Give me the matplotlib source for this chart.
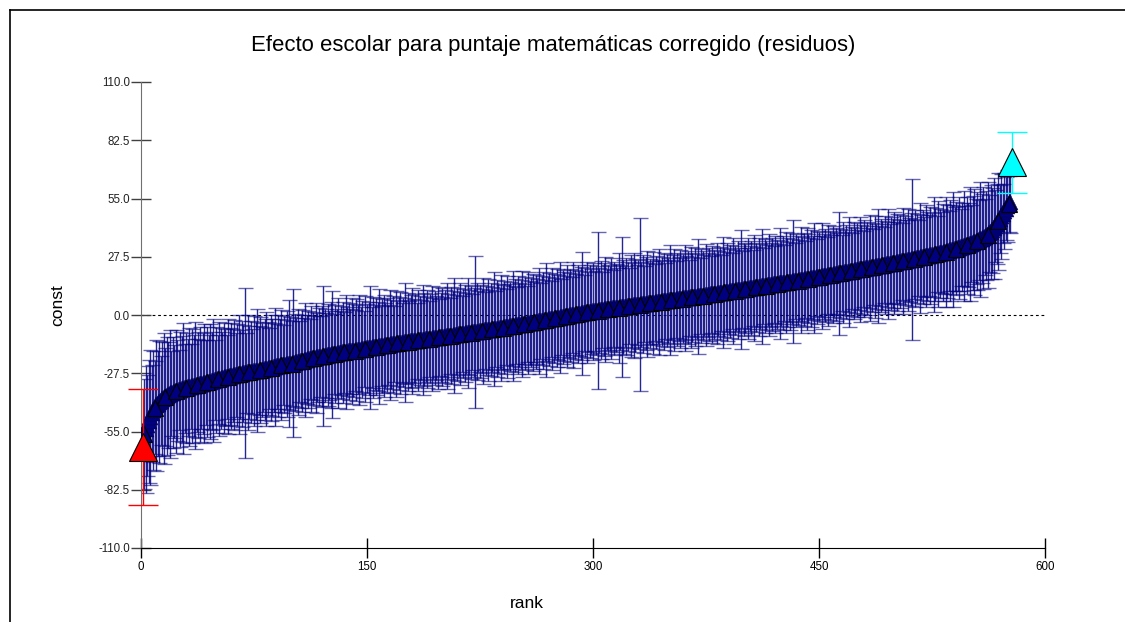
import numpy as np
import matplotlib
matplotlib.use("Agg")
import matplotlib.pyplot as plt
from matplotlib.lines import Line2D

plt.rcParams['font.family'] = ['Liberation Sans', 'DejaVu Sans']

# residuos ordenados por rango (rank 1 .. 578)
residuals = [
    -62.3, -56.0, -54.0, -52.1, -50.2, -48.3, -46.5, -45.0, -43.7, -42.6, -41.8, -41.1, -40.4, -39.8, -39.3, -38.7, -38.2, -37.7, -37.3, -36.9,
    -36.6, -36.3, -36.0, -35.7, -35.5, -35.2, -35.0, -34.8, -34.6, -34.4, -34.2, -34.0, -33.8, -33.6, -33.5, -33.3, -33.1, -32.9, -32.8, -32.6,
    -32.4, -32.2, -32.0, -31.8, -31.6, -31.4, -31.2, -31.0, -30.8, -30.6, -30.4, -30.2, -30.0, -29.8, -29.7, -29.5, -29.3, -29.1, -29.0, -28.8,
    -28.6, -28.5, -28.3, -28.2, -28.0, -27.9, -27.7, -27.6, -27.4, -27.3, -27.1, -27.0, -26.9, -26.7, -26.6, -26.5, -26.4, -26.3, -26.1, -26.0,
    -25.8, -25.7, -25.5, -25.3, -25.2, -25.0, -24.8, -24.7, -24.5, -24.3, -24.2, -24.0, -23.8, -23.7, -23.5, -23.4, -23.3, -23.1, -23.0, -22.9,
    -22.7, -22.5, -22.3, -22.2, -22.0, -21.8, -21.6, -21.5, -21.3, -21.1, -21.0, -20.8, -20.7, -20.5, -20.3, -20.2, -20.0, -19.9, -19.7, -19.6,
    -19.4, -19.3, -19.2, -19.0, -18.9, -18.8, -18.6, -18.5, -18.4, -18.2, -18.1, -18.0, -17.8, -17.7, -17.6, -17.5, -17.3, -17.2, -17.1, -17.0,
    -16.9, -16.8, -16.6, -16.5, -16.4, -16.3, -16.2, -16.0, -15.9, -15.8, -15.7, -15.5, -15.4, -15.3, -15.2, -15.0, -14.9, -14.8, -14.7, -14.6,
    -14.5, -14.3, -14.2, -14.1, -14.0, -13.9, -13.8, -13.6, -13.5, -13.4, -13.3, -13.2, -13.1, -13.0, -12.9, -12.8, -12.7, -12.6, -12.5, -12.4,
    -12.3, -12.2, -12.1, -12.0, -11.9, -11.8, -11.7, -11.6, -11.5, -11.4, -11.3, -11.2, -11.1, -11.0, -10.9, -10.8, -10.7, -10.6, -10.5, -10.4,
    -10.3, -10.2, -10.1, -10.0, -9.9, -9.8, -9.7, -9.6, -9.4, -9.3, -9.2, -9.1, -9.0, -8.9, -8.8, -8.7, -8.6, -8.4, -8.3, -8.2,
    -8.1, -8.0, -7.9, -7.8, -7.7, -7.6, -7.4, -7.3, -7.2, -7.1, -7.0, -6.9, -6.8, -6.7, -6.6, -6.5, -6.4, -6.3, -6.1, -6.0,
    -5.9, -5.8, -5.7, -5.5, -5.4, -5.3, -5.2, -5.1, -4.9, -4.8, -4.7, -4.6, -4.4, -4.3, -4.2, -4.1, -3.9, -3.8, -3.7, -3.6,
    -3.4, -3.3, -3.2, -3.0, -2.9, -2.8, -2.6, -2.5, -2.4, -2.2, -2.1, -2.0, -1.8, -1.7, -1.6, -1.4, -1.3, -1.2, -1.0, -0.9,
    -0.8, -0.6, -0.5, -0.4, -0.2, -0.1, 0.0, 0.2, 0.3, 0.4, 0.6, 0.7, 0.8, 1.0, 1.1, 1.2, 1.3, 1.5, 1.6, 1.7,
    1.8, 1.9, 2.0, 2.2, 2.3, 2.4, 2.5, 2.6, 2.7, 2.8, 2.9, 3.0, 3.1, 3.2, 3.3, 3.4, 3.5, 3.6, 3.7, 3.8,
    3.9, 4.0, 4.1, 4.2, 4.3, 4.4, 4.5, 4.6, 4.7, 4.8, 4.9, 5.0, 5.1, 5.2, 5.3, 5.4, 5.5, 5.6, 5.7, 5.8,
    5.9, 6.0, 6.1, 6.2, 6.3, 6.4, 6.5, 6.6, 6.7, 6.8, 6.9, 7.0, 7.1, 7.2, 7.3, 7.4, 7.5, 7.6, 7.7, 7.8,
    7.9, 8.0, 8.1, 8.2, 8.3, 8.4, 8.5, 8.6, 8.7, 8.8, 8.9, 9.0, 9.1, 9.2, 9.4, 9.5, 9.6, 9.7, 9.8, 9.9,
    10.0, 10.1, 10.2, 10.3, 10.5, 10.6, 10.7, 10.8, 10.9, 11.0, 11.1, 11.2, 11.4, 11.5, 11.6, 11.7, 11.8, 11.9, 12.0, 12.2,
    12.3, 12.4, 12.5, 12.6, 12.7, 12.8, 12.9, 13.1, 13.2, 13.3, 13.4, 13.5, 13.6, 13.7, 13.8, 14.0, 14.1, 14.2, 14.3, 14.4,
    14.5, 14.6, 14.7, 14.9, 15.0, 15.1, 15.2, 15.3, 15.4, 15.5, 15.7, 15.8, 15.9, 16.0, 16.1, 16.2, 16.4, 16.5, 16.6, 16.7,
    16.8, 17.0, 17.1, 17.2, 17.3, 17.5, 17.6, 17.7, 17.8, 18.0, 18.1, 18.2, 18.3, 18.5, 18.6, 18.7, 18.8, 19.0, 19.1, 19.2,
    19.3, 19.5, 19.6, 19.7, 19.9, 20.0, 20.1, 20.3, 20.4, 20.5, 20.7, 20.8, 20.9, 21.1, 21.2, 21.3, 21.5, 21.6, 21.7, 21.9,
    22.0, 22.1, 22.3, 22.4, 22.5, 22.7, 22.8, 22.9, 23.1, 23.2, 23.3, 23.5, 23.6, 23.7, 23.9, 24.0, 24.1, 24.3, 24.4, 24.5,
    24.7, 24.8, 25.0, 25.1, 25.3, 25.4, 25.6, 25.7, 25.9, 26.0, 26.2, 26.3, 26.5, 26.6, 26.8, 26.9, 27.1, 27.2, 27.4, 27.5,
    27.7, 27.8, 28.0, 28.2, 28.3, 28.5, 28.7, 28.8, 29.0, 29.2, 29.4, 29.5, 29.7, 29.9, 30.1, 30.3, 30.5, 30.7, 30.9, 31.1,
    31.3, 31.5, 31.7, 31.9, 32.1, 32.4, 32.6, 32.9, 33.1, 33.4, 33.7, 34.0, 34.3, 34.6, 35.0, 35.3, 35.7, 36.1, 36.5, 36.9,
    37.4, 37.9, 38.5, 39.2, 40.0, 40.9, 41.9, 43.0, 44.2, 45.4, 46.6, 47.8, 49.0, 50.2, 51.3, 52.4, 53.5, 72.0,
]

# semi-amplitud del intervalo (1.96*se) para cada escuela
half_width = [
    27.6, 26, 30, 24, 29, 32, 23, 28, 22, 31, 25, 29, 21, 27, 31, 23, 28, 25, 30, 20,
    26, 22, 29, 24, 19, 27, 25, 31, 21, 26, 23, 28, 20, 27, 24, 30, 22, 25, 27, 21,
    24, 28, 20, 26, 22, 27, 23, 29, 19, 25, 21, 27, 24, 22, 26, 23, 20, 27, 23, 25,
    22, 26, 20, 24, 28, 21, 25, 23, 40, 19, 27, 22, 24, 20, 26, 23, 29, 21, 25, 22,
    20, 24, 27, 22, 19, 25, 23, 21, 28, 20, 24, 22, 26, 19, 23, 21, 25, 30, 22, 20,
    35, 23, 21, 25, 19, 22, 24, 20, 27, 21, 23, 19, 25, 22, 20, 26, 21, 23, 19, 24,
    33, 22, 20, 24, 21, 25, 30, 19, 23, 21, 26, 20, 22, 24, 19, 27, 21, 23, 20, 25,
    22, 19, 24, 21, 26, 20, 23, 18, 25, 21, 22, 29, 19, 24, 20, 23, 21, 27, 19, 22,
    24, 20, 22, 19, 26, 21, 23, 18, 25, 20, 22, 24, 19, 21, 28, 20, 23, 19, 22, 25,
    20, 22, 18, 24, 21, 19, 26, 22, 20, 23, 18, 21, 25, 19, 22, 20, 24, 18, 21, 23,
    19, 22, 25, 20, 18, 23, 21, 27, 19, 22, 20, 24, 18, 21, 23, 19, 26, 20, 22, 18,
    21, 36, 23, 19, 22, 20, 25, 18, 21, 24, 19, 22, 20, 27, 18, 23, 21, 19, 25, 20,
    22, 18, 24, 20, 21, 19, 26, 22, 18, 23, 20, 21, 25, 19, 22, 18, 24, 20, 21, 23,
    19, 22, 20, 25, 18, 21, 23, 19, 27, 20, 22, 18, 24, 21, 19, 23, 20, 26, 18, 22,
    21, 19, 24, 20, 22, 18, 25, 21, 19, 23, 20, 22, 29, 18, 21, 24, 19, 22, 20, 23,
    19, 21, 37, 20, 23, 18, 22, 25, 19, 21, 20, 24, 18, 22, 21, 19, 26, 20, 33, 22,
    19, 23, 21, 18, 24, 20, 25, 22, 19, 21, 41, 20, 23, 18, 22, 25, 19, 21, 20, 24,
    18, 22, 20, 25, 19, 21, 23, 18, 22, 20, 26, 19, 21, 24, 18, 22, 20, 23, 19, 21,
    25, 20, 22, 18, 24, 21, 19, 23, 20, 27, 18, 22, 21, 19, 24, 20, 22, 18, 23, 21,
    19, 24, 20, 22, 18, 26, 21, 19, 23, 20, 22, 18, 25, 21, 19, 23, 20, 28, 18, 22,
    21, 19, 24, 20, 22, 18, 25, 21, 19, 23, 20, 27, 18, 22, 21, 19, 24, 20, 22, 18,
    23, 21, 19, 26, 20, 22, 18, 24, 21, 19, 23, 20, 29, 18, 22, 21, 19, 25, 20, 22,
    18, 24, 21, 19, 23, 20, 26, 18, 22, 21, 19, 25, 20, 22, 18, 24, 21, 19, 23, 20,
    22, 19, 29, 21, 18, 24, 20, 22, 19, 26, 21, 18, 23, 20, 22, 19, 25, 21, 18, 23,
    20, 22, 19, 25, 21, 18, 24, 20, 27, 19, 22, 21, 18, 23, 20, 26, 19, 22, 21, 24,
    19, 23, 20, 22, 18, 25, 21, 19, 24, 20, 22, 38, 19, 23, 21, 18, 26, 20, 22, 19,
    24, 21, 19, 23, 20, 27, 22, 18, 25, 21, 19, 23, 20, 26, 22, 19, 24, 21, 27, 20,
    22, 20, 24, 18, 21, 26, 19, 23, 20, 27, 18, 22, 25, 20, 23, 19, 27, 21, 24, 18,
    21, 25, 18, 22, 20, 24, 17, 19, 23, 16, 20, 14, 18, 15, 17, 13, 15, 14.2,
]

title = "Efecto escolar para puntaje matemáticas corregido (residuos)"
x_label = "rank"
y_label = "const"
y_ticks = [-110.0, -82.5, -55.0, -27.5, 0.0, 27.5, 55.0, 82.5, 110.0]
x_ticks = [0, 150, 300, 450, 600]

res = np.array(residuals)
hw = np.array(half_width)
rank = np.arange(1, len(res) + 1)

fig = plt.figure(figsize=(11.25, 6.22), dpi=100)
ax = fig.add_axes([141 / 1125, 74 / 622, 904 / 1125, 466 / 622])

navy = "#000080"
mid = np.arange(1, len(res) - 1)

ax.axhline(0, color="black", lw=0.8, ls=(0, (2.5, 2.5)), zorder=1)

eb = ax.errorbar(rank[mid], res[mid], yerr=hw[mid], fmt="none", ecolor=navy,
                 elinewidth=1.0, capsize=5.4, capthick=1.0, alpha=0.85, zorder=2)
for cap in eb.lines[1]:
    cap.set_alpha(0.6)

# triangulos: relleno para todos, contorno negro marcado cada pocos puntos
ax.plot(rank[mid], res[mid], ls="none", marker="^", ms=11,
        mfc=navy, mec="#000040", mew=0.3, zorder=3)
step = mid[::7]
ax.plot(rank[step], res[step], ls="none", marker="^", ms=11,
        mfc=navy, mec="black", mew=0.8, zorder=3)

# escuela con el menor y mayor efecto
for i, col in [(0, "#ff0000"), (len(res) - 1, "#00ffff")]:
    eb = ax.errorbar(rank[i], res[i], yerr=hw[i], fmt="none", ecolor=col,
                     elinewidth=1.0, capsize=10.5, capthick=1.0, zorder=4)
    for art in list(eb.lines[1]) + list(eb.lines[2]):
        art.set_clip_on(False)
    ax.plot(rank[i], res[i], ls="none", marker="^", ms=20.5,
            mfc=col, mec="black", mew=0.8, zorder=5, clip_on=False)

ax.set_xlim(0, 600)
ax.set_ylim(-110, 110)
ax.set_xticks(x_ticks)
ax.set_xticklabels([str(t) for t in x_ticks])
ax.set_yticks(y_ticks)
ax.set_yticklabels([f"{t:.1f}" for t in y_ticks])

for s in ["top", "right"]:
    ax.spines[s].set_visible(False)
ax.spines["left"].set_color("#707070")
ax.spines["bottom"].set_color("black")
ax.tick_params(axis="both", direction="inout", length=14, width=1,
               labelsize=8.3, labelcolor="#222222")
ax.tick_params(axis="y", pad=1, colors="#404040", labelcolor="#222222")
ax.tick_params(axis="x", pad=2, colors="black")

fig.text(553 / 1125, 1 - 46 / 622, title, ha="center", va="center", fontsize=15.9)
fig.text(58 / 1125, 1 - 305 / 622, y_label, ha="center", va="center",
         rotation=90, fontsize=12.5)
fig.text(527 / 1125, 1 - 603 / 622, x_label, ha="center", va="center", fontsize=12.5)

# marco de la ventana
fig.add_artist(Line2D([10 / 1125, 1], [1 - 10 / 622, 1 - 10 / 622],
                      transform=fig.transFigure, color="black", lw=1.2))
fig.add_artist(Line2D([10 / 1125, 10 / 1125], [0, 1 - 10 / 622],
                      transform=fig.transFigure, color="black", lw=1.2))

fig.savefig("out.png", dpi=100)
